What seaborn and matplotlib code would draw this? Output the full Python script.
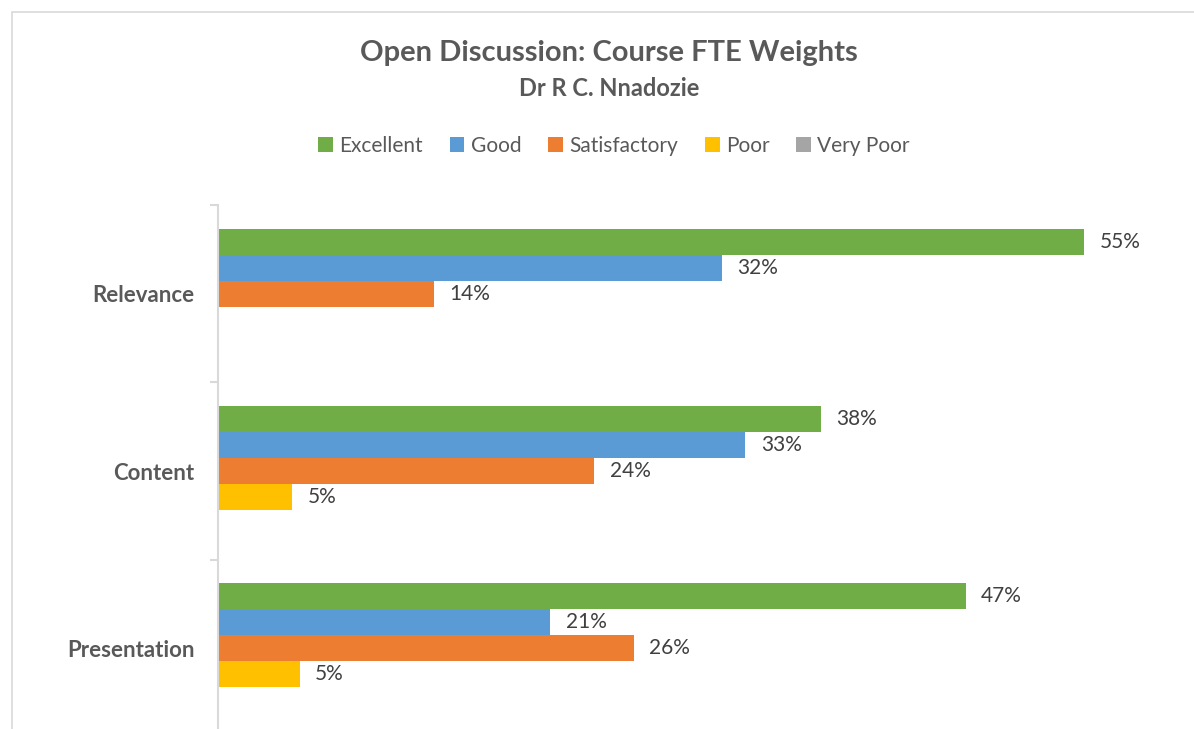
import matplotlib
matplotlib.use("Agg")
import matplotlib.pyplot as plt
import seaborn as sns
import pandas as pd
from matplotlib.patches import Rectangle, Patch

categories = ["Relevance", "Content", "Presentation"]
ratings = ["Excellent", "Good", "Satisfactory", "Poor", "Very Poor"]
excellent = [55.0, 38.3, 47.49]
good = [32.0, 33.49, 21.1]
satisfactory = [13.7, 23.9, 26.4]
poor = [0.0, 4.7, 5.2]
very_poor = [0.0, 0.0, 0.0]
colors = ["#70AD47", "#5B9BD5", "#ED7D31", "#FFC000", "#A5A5A5"]

series = [excellent, good, satisfactory, poor, very_poor]
rows = []
for r, vals in zip(ratings, series):
    for c, v in zip(categories, vals):
        rows.append({"Category": c, "Rating": r, "Value": v})
df = pd.DataFrame(rows)

sns.set_theme(style="white")
plt.rcParams['font.family'] = ['Lato', 'DejaVu Sans']

W, H = 1194, 729
fig = plt.figure(figsize=(W / 100, H / 100), dpi=100)
fig.patch.set_facecolor("white")

# chart-area border
fig.patches.append(Rectangle((12 / W, -0.1), 1.2, 1 - 12 / H + 0.1,
                             transform=fig.transFigure, fill=False,
                             edgecolor="#d9d9d9", linewidth=1.2))

ax_left, ax_right = 218, 1163
ax_top, ax_bot = 205, 737
ax = fig.add_axes([ax_left / W, 1 - ax_bot / H, (ax_right - ax_left) / W, (ax_bot - ax_top) / H])

sns.barplot(data=df, y="Category", x="Value", hue="Rating", order=categories,
            hue_order=ratings, palette=colors, orient="h", width=0.734, gap=0,
            dodge=True, saturation=1, linewidth=0, legend=False, ax=ax)

ax.set_xlim(0, 60)
ax.set_ylim(2.5, -0.5)

for cont, vals in zip(ax.containers, series):
    labels = [f"{round(v)}%" if v > 0 else "" for v in vals]
    ax.bar_label(cont, labels=labels, padding=11, fontsize=15, color="#404040")

for s in ["top", "right", "bottom"]:
    ax.spines[s].set_visible(False)
ax.spines["left"].set_color("#d9d9d9")
ax.spines["left"].set_linewidth(1.5)
ax.set_xticks([])
ax.set_xlabel("")
ax.set_ylabel("")
ax.set_yticks([0, 1, 2])
ax.set_yticklabels(categories, fontsize=16, fontweight="bold", color="#595959")
ax.tick_params(axis="y", which="major", left=False, length=0, pad=17)
ax.set_yticks([-0.5, 0.5, 1.5, 2.5], minor=True)
ax.tick_params(axis="y", which="minor", left=True, length=6, width=1.5, color="#d9d9d9", direction="out")
ax.set_facecolor("white")

fig.text(609 / W, 1 - 53 / H, "Open Discussion: Course FTE Weights", ha="center", va="center",
         fontsize=21, fontweight="bold", color="#595959")
fig.text(609 / W, 1 - 89 / H, "Dr R C. Nnadozie", ha="center", va="center",
         fontsize=17, fontweight="bold", color="#595959")

handles = [Patch(facecolor=c, edgecolor="none") for c in colors]
leg = fig.legend(handles, ratings, loc="center", bbox_to_anchor=(614 / W, 1 - 146 / H), ncol=5,
                 frameon=False, fontsize=15, handlelength=0.7, handleheight=0.7,
                 handletextpad=0.3, columnspacing=1.3, labelcolor="#595959")

fig.savefig("out.png", dpi=100, facecolor="white")
